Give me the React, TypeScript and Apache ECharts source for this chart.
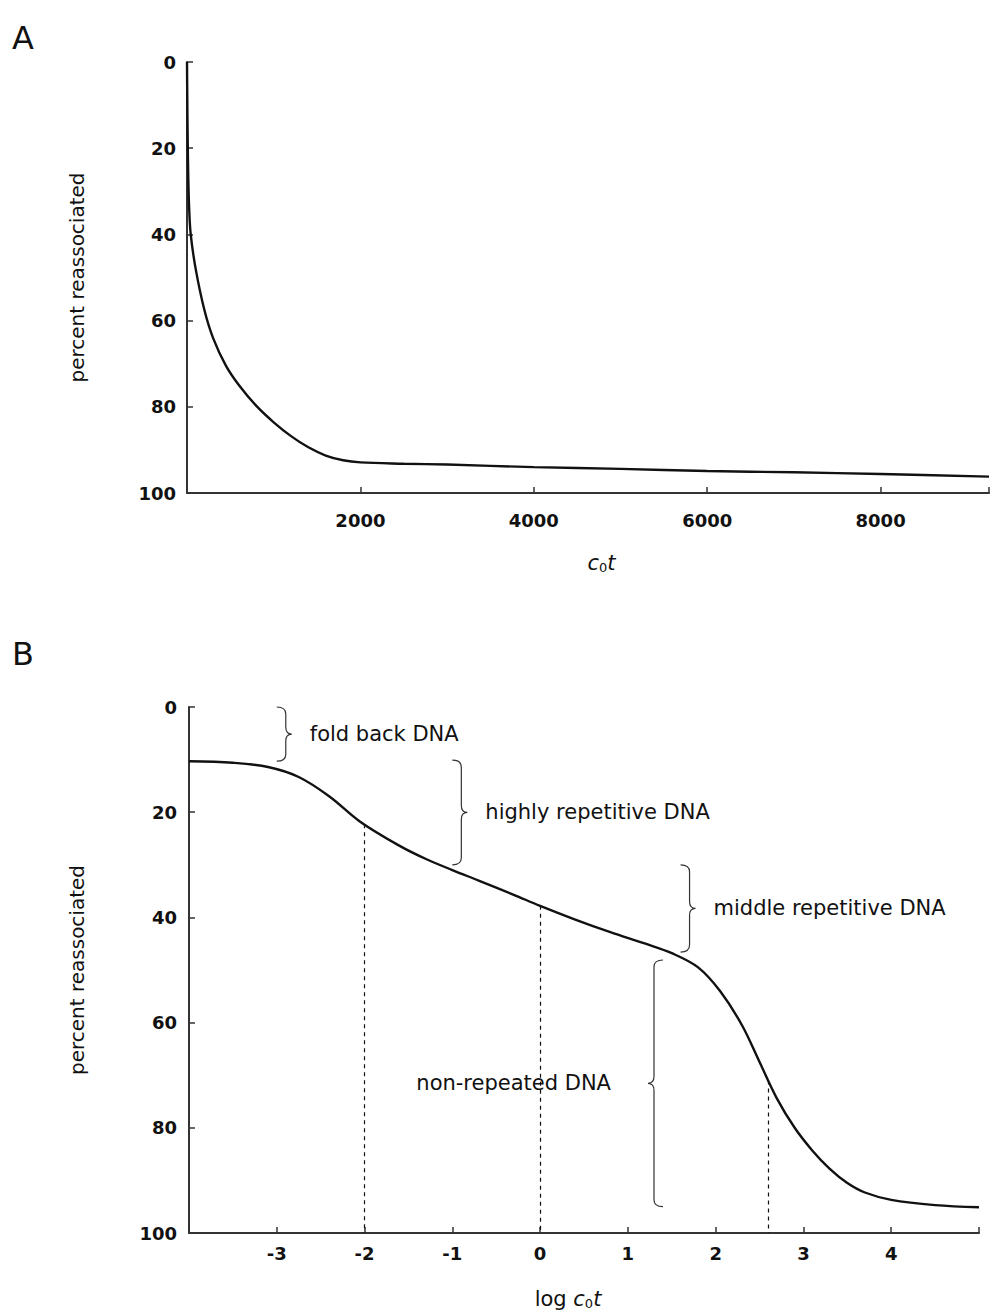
import React, { useEffect, useRef } from 'react';
import * as echarts from 'echarts';

// Panel A: percent reassociated vs c0t (linear)
const panelAX = [0, 3, 8, 15, 25, 43, 100, 200, 300, 450, 600, 800, 1000, 1200, 1400, 1600, 1800, 2000, 2500, 3000, 4000, 5000, 6000, 7000, 8000, 9250];
const panelAY = [0, 8, 18, 27, 34, 40, 48, 57.5, 64, 70.5, 75, 79.8, 83.6, 86.8, 89.4, 91.3, 92.4, 92.9, 93.2, 93.4, 94, 94.4, 94.9, 95.2, 95.6, 96.2];

// Panel B: percent reassociated vs log c0t
const panelBX = [-4.0, -3.5, -3.1, -2.75, -2.4, -2.05, -1.6, -1.3, -1.0, -0.7, -0.3, 0.0, 0.4, 0.8, 1.2, 1.5, 1.8, 2.05, 2.3, 2.5, 2.7, 2.9, 3.1, 3.3, 3.5, 3.7, 4.0, 4.5, 5.0];
const panelBY = [10.3, 10.6, 11.4, 13.3, 17.0, 21.8, 26.4, 28.9, 31.0, 33.0, 35.7, 37.8, 40.4, 42.8, 45.0, 46.8, 49.5, 54, 60.5, 67.5, 74.5, 80, 84.3, 87.8, 90.5, 92.3, 93.7, 94.7, 95.1];

// Dashed drop lines (half-reaction points)
const dropX = [-2, 0, 2.6];
const dropY = [22.3, 37.8, 71];

// Brace annotations
const braceLabels = ['fold back DNA', 'highly repetitive DNA', 'middle repetitive DNA', 'non-repeated DNA'];
const braceX = [-3.0, -1.0, 1.6, 1.4];
const braceFrom = [0, 10.1, 30, 48.1];
const braceTo = [10.3, 30, 46.6, 95];
const braceSide = [1, 1, 1, -1];

const yTicks = [0, 20, 40, 60, 80, 100];

const FONT = 'DejaVu Sans';
const INK = '#111';
const AXIS = '#333';

export default function App() {
  const ref = useRef<HTMLDivElement>(null);
  useEffect(() => {
    if (!ref.current) return;
    const chart = echarts.init(ref.current, undefined, { renderer: 'svg' });

    const tickLabel = (margin: number) => ({
      color: INK,
      fontFamily: FONT,
      fontWeight: 'bold',
      fontSize: 18,
      margin,
    });
    const axisLine = { show: true, onZero: false, lineStyle: { color: AXIS, width: 2 } };
    const axisTick = { show: true, inside: true, length: 6, lineStyle: { color: AXIS, width: 1.5 } };

    const richName = {
      n: { fontFamily: FONT, fontSize: 21, color: INK },
      i: { fontFamily: FONT, fontSize: 21, fontStyle: 'italic', color: INK },
      s: { fontFamily: FONT, fontSize: 13, color: INK, padding: [10, 0, 0, 0] },
    };

    const option: any = {
      animation: false,
      backgroundColor: '#fff',
      graphic: [
        { type: 'text', left: 12, top: 22, style: { text: 'A', fontSize: 32, fontFamily: FONT, fill: INK } },
        { type: 'text', left: 12, top: 638, style: { text: 'B', fontSize: 32, fontFamily: FONT, fill: INK } },
      ],
      grid: [
        { left: 187, top: 62, width: 805, height: 431, containLabel: false },
        { left: 189, top: 707, width: 790, height: 526, containLabel: false },
      ],
      xAxis: [
        {
          gridIndex: 0,
          type: 'value',
          min: 0,
          max: 9250,
          interval: 2000,
          axisLine,
          axisTick,
          splitLine: { show: false },
          axisLabel: {
            ...tickLabel(18),
            formatter: (v: number) => (v > 0 && v % 2000 === 0 ? String(v) : ''),
          },
          name: '{i|c}{s|0}{i|t}',
          nameLocation: 'middle',
          nameGap: 58,
          nameTextStyle: { rich: richName, padding: [0, 0, 0, 27] },
        },
        {
          gridIndex: 1,
          type: 'value',
          min: -4,
          max: 5,
          interval: 1,
          axisLine,
          axisTick,
          splitLine: { show: false },
          axisLabel: {
            ...tickLabel(11),
            formatter: (v: number) => (v > -4 && v < 5 ? String(v) : ''),
          },
          name: '{n|log }{i|c}{s|0}{i|t}',
          nameLocation: 'middle',
          nameGap: 54,
          nameTextStyle: { rich: richName, padding: [0, 32, 0, 0] },
        },
      ],
      yAxis: [
        {
          gridIndex: 0,
          type: 'value',
          inverse: true,
          min: 0,
          max: 100,
          interval: 20,
          axisLine,
          axisTick,
          splitLine: { show: false },
          axisLabel: { ...tickLabel(11), formatter: (v: number) => (yTicks.includes(v) ? String(v) : '') },
          name: 'percent reassociated',
          nameLocation: 'middle',
          nameGap: 100,
          nameTextStyle: { fontFamily: FONT, fontSize: 20, color: INK },
        },
        {
          gridIndex: 1,
          type: 'value',
          inverse: true,
          min: 0,
          max: 100,
          interval: 20,
          axisLine,
          axisTick,
          splitLine: { show: false },
          axisLabel: { ...tickLabel(12), formatter: (v: number) => (yTicks.includes(v) ? String(v) : '') },
          name: 'percent reassociated',
          nameLocation: 'middle',
          nameGap: 102,
          nameTextStyle: { fontFamily: FONT, fontSize: 20, color: INK },
        },
      ],
      series: [
        {
          type: 'line',
          xAxisIndex: 0,
          yAxisIndex: 0,
          data: panelAX.map((x, i) => [x, panelAY[i]]),
          showSymbol: false,
          smooth: 0.35,
          lineStyle: { color: INK, width: 2.4 },
        },
        {
          type: 'line',
          xAxisIndex: 1,
          yAxisIndex: 1,
          data: panelBX.map((x, i) => [x, panelBY[i]]),
          showSymbol: false,
          smooth: 0.35,
          lineStyle: { color: INK, width: 2.4 },
          markLine: {
            silent: true,
            symbol: 'none',
            label: { show: false },
            lineStyle: { type: [4, 4], color: INK, width: 1.2 },
            data: dropX.map((x, i) => [{ coord: [x, dropY[i]] }, { coord: [x, 100] }]),
          },
        },
        {
          type: 'custom',
          coordinateSystem: 'cartesian2d',
          xAxisIndex: 1,
          yAxisIndex: 1,
          silent: true,
          data: braceX.map((x, i) => [x, braceFrom[i], braceTo[i], braceSide[i]]),
          renderItem: (params: any, api: any) => {
            const i = params.dataIndex;
            const x = api.value(0);
            const y0 = api.value(1);
            const y1 = api.value(2);
            const side = api.value(3);
            const p0 = api.coord([x, y0]);
            const p1 = api.coord([x, y1]);
            const w = 15 * side;
            const xe = p0[0];
            const xv = xe + w * 0.6;
            const xt = xe + w;
            const ya = p0[1];
            const yb = p1[1];
            const ym = (ya + yb) / 2;
            const r = Math.min(7, (yb - ya) / 4);
            const d =
              `M${xe},${ya} Q${xv},${ya} ${xv},${ya + r} L${xv},${ym - r} Q${xv},${ym} ${xt},${ym} ` +
              `Q${xv},${ym} ${xv},${ym + r} L${xv},${yb - r} Q${xv},${yb} ${xe},${yb}`;
            const gap = side > 0 ? 18 : 37;
            return {
              type: 'group',
              children: [
                { type: 'path', shape: { pathData: d }, style: { fill: 'none', stroke: AXIS, lineWidth: 1.2 } },
                {
                  type: 'text',
                  x: xt + gap * side,
                  y: ym,
                  style: {
                    text: braceLabels[i],
                    fontSize: 21,
                    fontFamily: FONT,
                    fill: INK,
                    align: side > 0 ? 'left' : 'right',
                    verticalAlign: 'middle',
                  },
                },
              ],
            };
          },
        },
      ],
    };

    chart.setOption(option);
    return () => chart.dispose();
  }, []);

  return (
    <div
      ref={ref}
      style={{ position: 'absolute', left: 0, top: 0, width: 992, height: 1315, background: '#fff' }}
    />
  );
}
